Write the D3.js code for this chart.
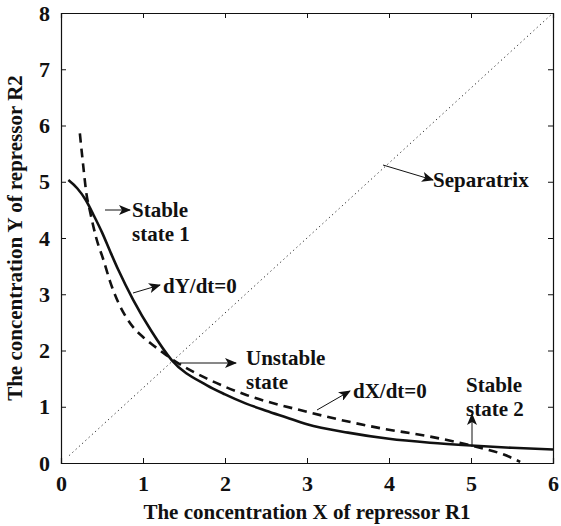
<!DOCTYPE html>
<html>
<head>
<meta charset="utf-8">
<script src="https://cdn.jsdelivr.net/npm/d3@7"></script>
<style>
  body { margin: 0; background: #fff; }
  text { font-family: "Liberation Serif", "DejaVu Serif", serif; font-weight: bold; fill: #111; }
</style>
</head>
<body>
<div class="chart-wrapper"></div>
<script>
// nullcline dY/dt=0 (solid)
const dyX = [0.09, 0.2, 0.3, 0.4, 0.5, 0.6, 0.7, 0.88, 1.1, 1.35, 1.78, 2.0, 2.25, 2.5, 2.75, 3.0, 3.5, 4.0, 4.5, 5.0, 5.5, 6.0];
const dyY = [5.03, 4.88, 4.68, 4.4, 4.1, 3.76, 3.43, 2.9, 2.35, 1.83, 1.38, 1.22, 1.06, 0.93, 0.81, 0.69, 0.54, 0.43, 0.36, 0.31, 0.27, 0.24];
// nullcline dX/dt=0 (dashed)
const dxX = [0.23, 0.27, 0.31, 0.35, 0.43, 0.52, 0.6, 0.7, 0.8, 0.9, 1.0, 1.1, 1.2, 1.35, 1.78, 2.26, 3.0, 3.89, 4.5, 5.11, 5.4, 5.6];
const dxY = [5.86, 5.3, 4.79, 4.5, 4.0, 3.6, 3.22, 2.85, 2.58, 2.38, 2.24, 2.12, 2.01, 1.85, 1.5, 1.21, 0.91, 0.62, 0.47, 0.27, 0.15, 0.02];
// separatrix endpoints
const sepX = [0.1, 6];
const sepY = [0.133, 8];
const xTicks = [0, 1, 2, 3, 4, 5, 6];
const yTicks = [0, 1, 2, 3, 4, 5, 6, 7, 8];

const width = 561, height = 526;
const margin = {left: 61, right: 8, top: 13, bottom: 63};

let svg = d3.select('.chart-wrapper').append('svg')
    .attr('width', width)
    .attr('height', height);

let x = d3.scaleLinear().domain([0, 6]).range([margin.left, width - margin.right]);
let y = d3.scaleLinear().domain([0, 8]).range([height - margin.bottom, margin.top]);

// arrow marker
svg.append('defs').append('marker')
    .attr('id', 'arrow')
    .attr('viewBox', '0 0 12 10')
    .attr('refX', 11)
    .attr('refY', 5)
    .attr('markerWidth', 13)
    .attr('markerHeight', 10)
    .attr('markerUnits', 'userSpaceOnUse')
    .attr('orient', 'auto')
    .append('path')
    .attr('d', 'M0,0 L12,5 L0,10 L3,5 Z')
    .attr('fill', '#111');

// box with inward ticks on all sides
svg.append('g').attr('transform', `translate(0,${y(0)})`)
    .call(d3.axisBottom(x).tickValues(xTicks).tickSize(-5).tickPadding(12).tickFormat(d3.format('d')));
svg.append('g').attr('transform', `translate(0,${y(8)})`)
    .call(d3.axisTop(x).tickValues(xTicks).tickSize(-5).tickFormat(''));
svg.append('g').attr('transform', `translate(${x(0)},0)`)
    .call(d3.axisLeft(y).tickValues(yTicks).tickSize(-5).tickPadding(11).tickFormat(d3.format('d')));
svg.append('g').attr('transform', `translate(${x(6)},0)`)
    .call(d3.axisRight(y).tickValues(yTicks).tickSize(-5).tickFormat(''));

svg.selectAll('.domain').attr('stroke', '#111').attr('stroke-width', 1.2);
svg.selectAll('.tick line').attr('stroke', '#111');
svg.selectAll('.tick text')
    .style('font-family', '"Liberation Serif", serif')
    .style('font-weight', 'bold')
    .style('font-size', '22px')
    .attr('fill', '#111');

// separatrix (dotted)
let line = d3.line().x(d => x(d[0])).y(d => y(d[1]));
svg.append('path')
    .datum(sepX.map((v, i) => [v, sepY[i]]))
    .attr('d', line)
    .attr('fill', 'none')
    .attr('stroke', '#222')
    .attr('stroke-width', 1)
    .attr('stroke-dasharray', '1.2,3.2');

let curve = d3.line().x(d => x(d[0])).y(d => y(d[1])).curve(d3.curveMonotoneX);

svg.append('path')
    .datum(dxX.map((v, i) => [v, dxY[i]]))
    .attr('d', curve)
    .attr('fill', 'none')
    .attr('stroke', '#111')
    .attr('stroke-width', 2.6)
    .attr('stroke-dasharray', '9,6');

svg.append('path')
    .datum(dyX.map((v, i) => [v, dyY[i]]))
    .attr('d', curve)
    .attr('fill', 'none')
    .attr('stroke', '#111')
    .attr('stroke-width', 2.6);

// annotations (pixel positions of arrows and labels)
const notes = [
    {from: [105, 210], to: [130, 210], lines: ['Stable', 'state 1'], tx: 132, ty: 217},
    {from: [133, 293], to: [160, 285], lines: ['dY/dt=0'], tx: 163, ty: 293},
    {from: [383, 165], to: [433, 180], lines: ['Separatrix'], tx: 433, ty: 187},
    {from: [180, 363], to: [236, 363], lines: ['Unstable', 'state'], tx: 246, ty: 365},
    {from: [317, 410], to: [350, 391], lines: ['dX/dt=0'], tx: 353, ty: 398},
    {from: [472, 447], to: [472, 414], lines: ['Stable', 'state 2'], tx: 466, ty: 392}
];

notes.forEach(n => {
    svg.append('line')
        .attr('x1', n.from[0]).attr('y1', n.from[1])
        .attr('x2', n.to[0]).attr('y2', n.to[1])
        .attr('stroke', '#111')
        .attr('stroke-width', 1)
        .attr('marker-end', 'url(#arrow)');
    let t = svg.append('text')
        .attr('x', n.tx)
        .attr('y', n.ty)
        .style('font-size', '21px');
    n.lines.forEach((s, i) => {
        t.append('tspan').attr('x', n.tx).attr('dy', i === 0 ? 0 : 24).text(s);
    });
});

// axis titles
svg.append('text')
    .attr('x', (x(0) + x(6)) / 2)
    .attr('y', 519)
    .attr('text-anchor', 'middle')
    .style('font-size', '21px')
    .text('The concentration X of repressor R1');

svg.append('text')
    .attr('transform', `translate(22,${(y(0) + y(8)) / 2}) rotate(-90)`)
    .attr('text-anchor', 'middle')
    .style('font-size', '21px')
    .text('The concentration Y of repressor R2');
</script>
</body>
</html>
